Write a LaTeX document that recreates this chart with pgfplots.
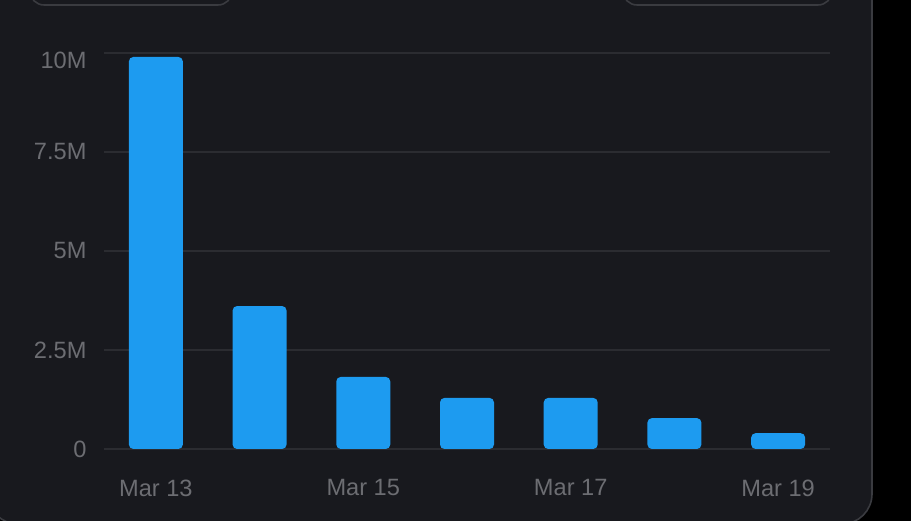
\documentclass[border=0pt]{standalone}
\usepackage{pgfplots}
\pgfplotsset{compat=1.18}
\usepackage{fontspec}
\setmainfont{Liberation Sans}
\definecolor{pagebg}{HTML}{000000}
\definecolor{panelbg}{HTML}{18191E}
\definecolor{panelborder}{HTML}{3A3B40}
\definecolor{gridc}{HTML}{2B2C31}
\definecolor{labelc}{HTML}{6C6D72}
\definecolor{barc}{HTML}{1D9BF0}
\begin{document}
\begin{tikzpicture}[x=1pt,y=1pt]
\useasboundingbox (0,0) rectangle (911,521);
\clip (0,0) rectangle (911,521);
\fill[pagebg] (0,0) rectangle (911,521);
\fill[panelbg,draw=panelborder,line width=1.6pt,rounded corners=30pt] (-12,-3) rectangle (872,600);
\draw[panelborder,line width=1.6pt,rounded corners=14pt] (30,540) rectangle (232,516);
\draw[panelborder,line width=1.6pt,rounded corners=14pt] (623,540) rectangle (832,516);
\begin{axis}[
  at={(104pt,72pt)},anchor=south west,
  scale only axis,width=726pt,height=396pt,
  xmin=-0.5,xmax=6.5,ymin=0,ymax=10000000,
  clip=false,
  axis line style={draw=none},
  major tick length=0pt,
  xmajorgrids=false,ymajorgrids=true,
  grid style={gridc,line width=1.8pt},
  ytick={0,2500000,5000000,7500000},
  yticklabels={0,2.5M,5M,7.5M},
  extra y ticks={10000000},
  extra y tick labels={10M},
  extra y tick style={yticklabel style={yshift=-7pt},grid=major},
  xtick={0,2,4,6},
  xticklabels={Mar 13,Mar 15,Mar 17,Mar 19},
  scaled y ticks=false,
  tick label style={font=\fontsize{23.6}{25}\selectfont,text=labelc},
  yticklabel style={anchor=east,xshift=-14pt},
  xticklabel style={anchor=center,yshift=-39pt},
]
\addplot[ybar,bar width=54pt,fill=barc,draw=none,rounded corners=4.5pt] coordinates {
 (0,9900000) (1,3610000) (2,1820000) (3,1290000) (4,1290000) (5,780000) (6,400000)};
\end{axis}
\end{tikzpicture}
\end{document}
